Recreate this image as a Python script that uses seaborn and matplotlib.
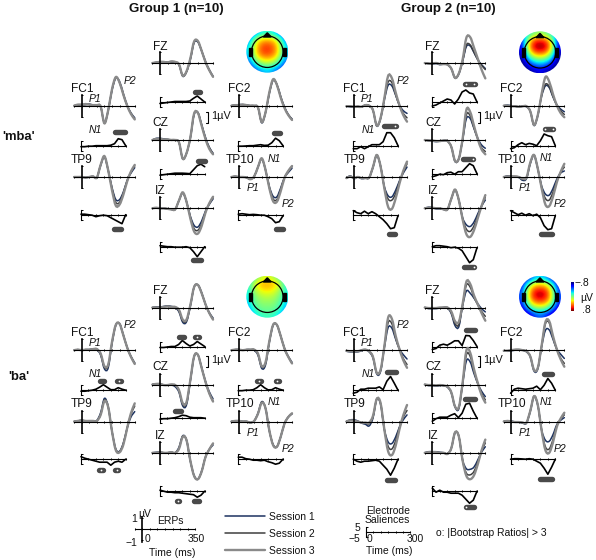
import numpy as np
import pandas as pd
import matplotlib
matplotlib.use("Agg")
import matplotlib.pyplot as plt
import seaborn as sns
from matplotlib.patches import Circle, PathPatch, Polygon, Rectangle
from matplotlib.path import Path

times = [-50, -25, 0, 25, 50, 75, 100, 125, 150, 175, 200, 225, 250, 275, 300, 325, 350]
sal_times = [0, 25, 50, 75, 100, 125, 150, 175, 200, 225, 250, 275, 300]
sessions = ["Session 1", "Session 2", "Session 3"]
electrodes = ["fc1", "fz", "fc2", "cz", "tp9", "tp10", "iz"]
elec_names = ["FC1", "FZ", "FC2", "CZ", "TP9", "TP10", "IZ"]

# erps in uV, session 1, 2, 3
g1_mba_fc1 = [[0,.05,.1,.1,.15,.05,0,-.1,-1.55,-.4,1.4,2.5,2.2,1.1,.05,-.65,-1.1],
              [0,.05,.05,.1,.1,.05,0,-.1,-1.6,-.45,1.45,2.55,2.1,1.0,0,-.7,-1.2],
              [0,.1,.1,.15,.1,.05,.05,-.05,-1.6,-.4,1.5,2.6,2.1,1.0,0,-.75,-1.25]]
g1_mba_fz = [[0,.05,.05,.1,.05,.1,.05,-.15,-1.2,-.8,.3,1.85,1.9,1.1,.15,-.6,-1.2],
             [0,.05,.1,.1,.05,.1,.05,-.15,-1.15,-.8,.35,1.9,1.95,1.1,.1,-.65,-1.25],
             [0,.05,.1,.1,.05,.15,.1,-.1,-1.15,-.75,.4,1.95,2.0,1.1,.1,-.65,-1.25]]
g1_mba_fc2 = [[0,.05,.1,.1,.05,0,0,-.15,-1.55,-.65,1.1,2.3,1.95,.85,-.1,-.8,-1.2],
              [0,.05,.05,.1,.05,0,0,-.15,-1.5,-.6,1.15,2.35,1.9,.8,-.15,-.8,-1.25],
              [0,.05,.05,.1,.05,0,0,-.15,-1.5,-.6,1.2,2.4,1.9,.75,-.2,-.85,-1.3]]
g1_mba_cz = [[0,.15,.15,.1,.05,0,0,-.2,-1.7,-1.2,.15,2.3,2.5,1.4,.25,-.65,-1.2],
             [0,.1,.1,.05,.05,0,0,-.2,-1.7,-1.2,.2,2.35,2.5,1.35,.15,-.7,-1.25],
             [0,.1,.1,.05,.05,0,0,-.2,-1.7,-1.2,.2,2.4,2.45,1.3,.1,-.8,-1.3]]
g1_mba_tp9 = [[0,0,0,-.05,0,.05,-.05,1.05,1.85,.6,-.95,-2.05,-2.05,-1.35,-.3,.35,.85],
              [0,0,0,-.05,0,.05,-.05,1.1,1.85,.6,-1.05,-2.3,-2.3,-1.45,-.35,.45,1.0],
              [0,0,0,-.05,0,.05,-.05,1.1,1.9,.6,-1.2,-2.6,-2.5,-1.6,-.4,.5,1.1]]
g1_mba_tp10 = [[0,.05,0,0,-.05,-.2,.05,.9,1.65,.65,-.85,-1.75,-1.8,-1,-.05,.4,.8],
               [0,.05,0,0,-.05,-.2,.05,.9,1.65,.65,-.95,-2.0,-2.05,-1.15,-.05,.5,.95],
               [0,.05,0,0,-.05,-.2,.05,.9,1.7,.65,-1.0,-2.2,-2.25,-1.3,-.1,.55,1.0]]
g1_mba_iz = [[0,.05,0,0,-.05,-.1,-.1,.7,1.4,.6,-.7,-1.55,-1.7,-1.15,-.25,.35,.85],
             [0,.05,0,0,-.05,-.1,-.1,.7,1.4,.6,-.8,-1.85,-2.0,-1.4,-.35,.4,.95],
             [0,.05,0,0,-.05,-.1,-.1,.7,1.45,.6,-.9,-2.1,-2.3,-1.6,-.4,.45,1.05]]

g2_mba_fc1 = [[-.05,-.1,-.15,-.1,-.1,.05,0,-.4,-1.85,-1.2,.5,1.85,1.8,.95,.05,-.45,-.7],
              [-.05,-.05,-.1,-.05,-.1,.05,0,-.4,-1.8,-1.15,.6,2.15,2.1,1.0,0,-.7,-1.1],
              [-.05,-.05,-.1,-.1,-.1,.05,0,-.4,-1.8,-1.15,.65,2.7,2.5,1.2,.05,-.85,-1.45]]
g2_mba_fz = [[0,-.05,-.1,-.05,-.15,-.1,-.15,-.5,-1.35,-1.0,.15,1.5,1.55,.95,.3,-.15,-.5],
             [0,-.05,-.05,0,-.1,-.1,-.15,-.5,-1.35,-.95,.2,1.65,1.65,1.0,.3,-.2,-.6],
             [0,-.05,-.05,0,-.1,-.1,-.15,-.5,-1.35,-.95,.3,2.3,2.35,1.4,.4,-.6,-1.4]]
g2_mba_fc2 = [[0,.05,0,-.05,-.1,-.05,-.1,-.5,-1.8,-.9,.85,1.8,1.65,.8,.1,-.3,-.55],
              [0,0,-.05,-.05,-.1,-.05,-.05,-.5,-1.75,-.85,.95,1.95,1.75,.85,.05,-.45,-.8],
              [0,0,-.05,-.05,-.1,-.05,-.05,-.5,-1.75,-.85,1.05,2.6,2.2,1.05,.05,-.65,-1.05]]
g2_mba_cz = [[0,-.05,-.1,-.15,-.1,-.05,-.1,-.6,-1.95,-1.7,0,1.95,1.95,1.05,.15,-.45,-.75],
             [0,-.05,-.05,-.1,-.1,-.05,-.1,-.6,-1.9,-1.7,.05,2.3,2.2,1.1,.1,-.7,-1.05],
             [0,-.05,-.05,-.1,-.1,-.05,-.1,-.6,-1.9,-1.7,.1,2.75,2.55,1.3,.1,-.85,-1.3]]
g2_mba_tp9 = [[-.1,.1,-.15,0,-.15,-.1,-.05,.85,1.95,1.0,-.85,-1.7,-1.8,-1.2,-.35,.35,.9],
              [-.1,.05,-.1,0,-.1,-.1,-.05,.9,2.0,1.0,-.95,-2.0,-2.1,-1.5,-.45,.45,1.2],
              [-.1,.05,-.1,0,-.1,-.1,-.05,.9,2.0,1.0,-1.0,-2.7,-2.9,-1.95,-.6,.55,1.4]]
g2_mba_tp10 = [[0,.1,.05,0,-.05,-.3,-.15,1.2,1.95,.75,-.8,-1.55,-1.65,-1.05,-.2,.35,.55],
               [0,.05,.05,.05,0,-.2,-.1,1.25,2.0,.75,-.95,-1.95,-2.1,-1.4,-.4,.4,.9],
               [0,.05,.05,.05,0,-.15,-.05,1.3,2.0,.75,-1.0,-2.5,-2.65,-1.8,-.5,.45,1.2]]
g2_mba_iz = [[0,.1,.05,-.05,-.05,-.1,-.1,.85,1.65,.75,-.85,-1.5,-1.65,-1.25,-.5,.2,.75],
             [0,.05,.05,0,0,-.1,-.1,.85,1.7,.75,-.95,-1.9,-2.1,-1.6,-.7,.2,1.0],
             [0,.05,.05,0,0,-.1,-.1,.85,1.7,.75,-1.0,-2.35,-2.6,-2.0,-.9,.2,1.2]]

g1_ba_fc1 = [[0,.05,0,.05,.05,.1,.05,-.45,-1.7,-1.6,.6,2.25,2.4,1.4,.25,-.55,-1.15],
             [0,.05,0,.05,.05,.1,.1,-.35,-1.55,-1.4,.7,2.3,2.4,1.35,.25,-.6,-1.2],
             [0,.05,0,.05,.05,.1,.1,-.3,-1.45,-1.3,.75,2.3,2.4,1.35,.25,-.6,-1.25]]
g1_ba_fz = [[0,.05,.05,.1,.15,.1,0,-.4,-1.35,-1.3,.1,1.85,2.05,1.35,.3,-.45,-.95],
            [0,0,0,.05,.1,.05,0,-.3,-1.2,-1.2,.15,1.85,2.05,1.3,.3,-.5,-1.05],
            [0,0,0,.05,.1,.05,.05,-.2,-1.1,-1.1,.2,1.85,2.05,1.3,.3,-.5,-1.1]]
g1_ba_fc2 = [[0,.05,.05,0,.05,.05,0,-.45,-1.65,-1.35,.7,2.25,2.3,1.3,.2,-.55,-1.1],
             [0,.05,.05,0,.05,.05,.05,-.35,-1.5,-1.2,.75,2.3,2.3,1.3,.15,-.6,-1.2],
             [0,.05,.05,0,.05,.05,.05,-.3,-1.45,-1.1,.8,2.3,2.3,1.3,.15,-.6,-1.2]]
g1_ba_cz = [[0,.05,.05,-.05,-.05,-.05,-.2,-.7,-1.95,-1.85,.3,2.5,2.7,1.55,.3,-.65,-1.3],
            [0,.05,.05,-.05,-.05,0,-.1,-.55,-1.8,-1.7,.35,2.55,2.7,1.5,.25,-.8,-1.5],
            [0,.05,.05,-.05,-.05,0,-.05,-.5,-1.7,-1.6,.4,2.55,2.7,1.5,.25,-.8,-1.55]]
g1_ba_tp9 = [[0,.05,.1,.05,.05,.05,.1,.8,2.1,1.35,-.9,-2.5,-2.7,-1.95,-.6,.4,.9],
             [0,.05,.1,.05,.05,.05,.05,.65,1.95,1.3,-.9,-2.55,-2.75,-2.0,-.6,.65,1.4],
             [0,.05,.1,.05,.05,.05,.05,.6,1.85,1.3,-.9,-2.6,-2.8,-2.1,-.6,.75,1.65]]
g1_ba_tp10 = [[0,.05,.05,0,0,-.1,.05,.75,1.8,1.2,-.85,-2.1,-2.3,-1.4,-.2,.4,.7],
              [0,.05,.05,0,0,-.1,.05,.7,1.75,1.2,-.8,-2.1,-2.3,-1.4,-.2,.4,.7],
              [0,.05,.05,0,0,-.1,.05,.7,1.7,1.2,-.8,-2.15,-2.3,-1.4,-.2,.4,.75]]
g1_ba_iz = [[0,.05,.05,0,0,.05,0,.5,1.55,1.15,-.75,-2.05,-2.4,-1.65,-.4,.3,.7],
            [0,0,.05,0,0,.05,0,.4,1.5,1.15,-.7,-2.1,-2.4,-1.7,-.4,.3,.85],
            [0,0,.05,0,0,.05,0,.35,1.45,1.15,-.7,-2.1,-2.4,-1.7,-.4,.3,.85]]

g2_ba_fc1 = [[-.1,-.15,-.15,-.15,-.05,.05,-.15,-.7,-2.15,-1.95,.2,2.05,2.0,1.0,.1,-.4,-.8],
             [-.05,-.1,-.1,-.1,0,.05,-.1,-.6,-2.05,-1.85,.3,2.5,2.4,1.1,.1,-.75,-1.3],
             [-.05,-.1,-.1,-.1,0,.05,-.1,-.6,-2.05,-1.8,.3,2.95,2.85,1.3,.1,-.9,-1.6]]
g2_ba_fz = [[0,-.1,-.1,-.1,-.05,0,-.05,-.55,-1.65,-1.75,.15,1.5,1.3,.85,.35,-.1,-.4],
            [0,-.05,-.05,-.05,-.05,0,0,-.45,-1.45,-1.55,.25,2.05,1.85,.95,.25,-.35,-.8],
            [0,-.05,-.05,-.05,0,0,0,-.35,-1.25,-1.3,.3,2.35,2.15,1.1,.3,-.5,-1.2]]
g2_ba_fc2 = [[-.05,-.1,-.05,0,.05,0,-.15,-.6,-1.9,-1.7,.3,1.8,1.85,1.0,.1,-.35,-.75],
             [-.05,-.05,0,.05,.05,0,-.1,-.55,-1.8,-1.6,.4,2.4,2.5,1.15,.1,-.7,-1.2],
             [-.05,-.05,0,.05,.05,0,-.1,-.55,-1.8,-1.6,.4,2.55,2.65,1.3,.1,-.8,-1.5]]
g2_ba_cz = [[0,-.1,-.1,-.15,-.1,-.1,-.25,-.75,-2.05,-2.2,.05,2.15,2.05,1.0,.1,-.6,-1.1],
            [0,-.05,-.05,-.1,-.05,-.1,-.2,-.7,-2.0,-2.1,.1,2.7,2.55,1.2,.1,-.8,-1.4],
            [0,-.05,-.05,-.1,-.05,-.1,-.2,-.7,-2.0,-2.05,.15,3.1,2.9,1.4,.15,-.95,-1.65]]
g2_ba_tp9 = [[0,.15,.15,.05,-.15,-.25,-.4,.3,2.0,1.6,-.7,-1.85,-2.0,-1.4,-.5,.15,.6],
             [0,.1,.1,0,-.1,-.15,-.2,.4,2.05,1.65,-.7,-2.25,-2.5,-1.75,-.55,.4,1.0],
             [0,.1,.05,0,-.1,-.1,-.1,.5,2.05,1.7,-.7,-2.7,-3.05,-2.2,-.7,.55,1.5]]
g2_ba_tp10 = [[0,.05,.05,-.05,-.05,-.15,-.15,.9,2.25,1.45,-.75,-1.7,-1.8,-1.2,-.3,.1,.35],
              [0,.05,0,-.05,-.05,-.1,-.1,.95,2.3,1.5,-.8,-2.3,-2.5,-1.65,-.4,.2,.6],
              [0,.05,0,-.05,-.05,-.1,-.1,.95,2.3,1.5,-.8,-2.6,-2.85,-1.9,-.5,.25,.8]]
g2_ba_iz = [[0,.1,.1,.1,.05,0,-.1,.4,1.8,1.5,-.65,-1.45,-1.5,-1.3,-.65,.05,.55],
            [0,.05,.05,.05,0,0,-.1,.4,1.85,1.5,-.7,-1.85,-2.0,-1.7,-.85,.15,.9],
            [0,.05,.05,.05,0,0,-.1,.4,1.85,1.5,-.7,-2.1,-2.4,-2.05,-1.05,.2,1.2]]

# electrode saliences
g1_mba_fc1_sal = [-1,-1,-.5,-.5,0,0,0,0,.5,2,7,6,0]
g1_mba_fz_sal = [-1.5,-1,-.5,0,.5,.5,.5,.5,1,3.7,6,3,0]
g1_mba_fc2_sal = [-.5,-.5,-.3,0,0,.5,1,.3,.5,3,7.5,5,0]
g1_mba_cz_sal = [-1.5,-1,-.5,0,.5,.5,.5,.3,0,4,8,9.5,7]
g1_mba_tp9_sal = [.5,.5,0,-.5,-2,-1,-.5,-1,-3,-5,-7,-9,0]
g1_mba_tp10_sal = [.5,1,.5,0,.3,0,-.5,-.5,-2,-4,-8,-7,-1]
g1_mba_iz_sal = [1,.5,0,0,-.5,-.5,-.5,0,-1,-5,-10,-5,0]

g2_mba_fc1_sal = [-3,-3,-1,-3,-1,1,1,1,4,13,13,8,0]
g2_mba_fz_sal = [-4,-3,-1,1,3,2,-2,3,10,12,9,8,0]
g2_mba_fc2_sal = [-3,-2,1,3,1,2.3,1.5,0,5,11.7,10,9,0]
g2_mba_cz_sal = [-3,-2,-.5,-1,1,1.5,-.5,2,2,6,10,8,0]
g2_mba_tp9_sal = [4,2,1,3.5,1,3,1,-2,-5,-9,-14,-13,-1]
g2_mba_tp10_sal = [4,2,0,1.5,-.5,1,-1,.5,-3,-11,-15,-14,-1]
g2_mba_iz_sal = [0,1,1,.5,0,-1,-.5,-1.5,-4,-10,-16,-13,-1]

g1_ba_fc1_sal = [-1,-1,-.5,0,1,3,5.5,3,.5,.5,2.5,1,0]
g1_ba_fz_sal = [-1,-1,-.5,0,0,2,6,3,.5,2,5,2.5,0]
g1_ba_fc2_sal = [-.5,-.5,0,0,.5,2.5,5.5,2.5,.3,.5,2.5,1,0]
g1_ba_cz_sal = [-1,-.5,-.5,0,.5,1.5,3,2.5,1,.5,.5,.5,0]
g1_ba_tp9_sal = [2.5,1,0,-1,-2,-3,-3,-3,-6,-3,-2,-3,0]
g1_ba_tp10_sal = [2,2,.5,0,-1,-1,-1.5,-1,-2.5,-3.5,-5,-4,0]
g1_ba_iz_sal = [1,0,-1,-1,-1.5,-1.5,-2,-2.5,-3,-3.5,-6,-4,0]

g2_ba_fc1_sal = [-3,-2,1,1,2,2,2,3.3,.5,9,13.7,7,0]
g2_ba_fz_sal = [-3,-2,1.3,2.3,1.3,3.3,5.7,5.7,1,11,10.7,6,0]
g2_ba_fc2_sal = [-3,1,2,1.5,1,1.5,2,4,.5,5,11.7,7,0]
g2_ba_cz_sal = [-3,-.5,1,1,1,3,4.5,.5,5,14,15,7,0]
g2_ba_tp9_sal = [0,-2,-3,-2,-2,-1.5,-1,-2,-6,-10,-16,-9,0]
g2_ba_tp10_sal = [0,.5,.5,.3,0,.5,0,-2,-4,-9,-15,-8,0]
g2_ba_iz_sal = [3,-1,1,-1,-1,-2,-2,-2,-4,-8,-12,-9,0]

# significant ranges: t start, t end, height, open dots
g1_mba_fc1_sig = [(230, 293, 13.3, [])]
g1_mba_fz_sig = [(232, 268, 10.3, [])]
g1_mba_fc2_sig = [(242, 278, 13, [])]
g1_mba_cz_sig = [(255, 300, 12.3, []), (-4, -4, 12.3, [-4])]
g1_mba_tp9_sig = [(224, 269, -14, [])]
g1_mba_tp10_sig = [(255, 300, -14, [])]
g1_mba_iz_sig = [(219, 273, -13.3, [])]

g2_mba_fc1_sig = [(208, 284, 20, [280])]
g2_mba_fz_sig = [(222, 284, 18, [226, 280])]
g2_mba_fc2_sig = [(228, 284, 17, [228, 284])]
g2_mba_cz_sig = [(208, 275, 14.7, [275])]
g2_mba_tp9_sig = [(237, 282, -19.7, [])]
g2_mba_tp10_sig = [(206, 280, -19.3, [])]
g2_mba_iz_sig = [(210, 282, -20.7, [277])]

g1_ba_fc1_sig = [(125, 152, 9.7, []), (244, 270, 9.7, [256])]
g1_ba_fz_sig = [(125, 161, 10, []), (237, 264, 10, [250])]
g1_ba_fc2_sig = [(128, 154, 9.7, [141]), (250, 270, 9.7, [257])]
g1_ba_cz_sig = [(103, 139, 6.7, [])]
g1_ba_tp9_sig = [(119, 146, -10.7, [133]), (228, 250, -10.7, [239])]
g1_ba_tp10_sig = []
g1_ba_iz_sig = [(112, 130, -9.7, [121]), (228, 264, -9.7, [])]

g2_ba_fc1_sig = [(228, 287, 18.3, [])]
g2_ba_fz_sig = [(226, 289, 16.3, []), (152, 152, 16.3, [152])]
g2_ba_fc2_sig = [(226, 280, 16.3, [])]
g2_ba_cz_sig = [(222, 284, 19, [])]
g2_ba_tp9_sig = [(224, 282, -20.3, [])]
g2_ba_tp10_sig = [(197, 278, -19.3, [])]
g2_ba_iz_sig = [(226, 280, -16, [226])]

# scalp maps, uV, front at the top
map_g1_mba = [[-.55,-.45,-.3,-.2,-.15,-.2,-.3,-.45,-.55],
              [-.42,-.2,.05,.2,.22,.2,.05,-.2,-.42],
              [-.32,-.02,.28,.42,.46,.42,.28,-.02,-.32],
              [-.26,.05,.36,.52,.56,.52,.36,.05,-.26],
              [-.26,.05,.36,.52,.56,.5,.36,.05,-.26],
              [-.32,-.05,.24,.38,.42,.38,.24,-.05,-.32],
              [-.42,-.2,.02,.15,.2,.15,.02,-.2,-.42],
              [-.55,-.38,-.2,-.1,-.05,-.1,-.2,-.38,-.55],
              [-.68,-.55,-.42,-.32,-.28,-.32,-.42,-.55,-.68]]
map_g2_mba = [[-.4,-.3,-.1,0,.05,0,-.1,-.3,-.4],
              [-.55,-.2,.15,.35,.4,.35,.15,-.2,-.55],
              [-.6,-.1,.4,.65,.7,.65,.4,-.1,-.6],
              [-.65,-.1,.45,.7,.75,.7,.45,-.1,-.65],
              [-.7,-.2,.25,.5,.55,.5,.25,-.2,-.7],
              [-.75,-.4,-.05,.15,.2,.15,-.05,-.4,-.75],
              [-.8,-.6,-.35,-.2,-.15,-.2,-.35,-.6,-.8],
              [-.8,-.75,-.6,-.5,-.45,-.5,-.6,-.75,-.8],
              [-.8,-.8,-.75,-.7,-.65,-.7,-.75,-.8,-.8]]
map_g1_ba = [[-.25,-.1,.05,.15,.2,.15,.05,-.1,-.25],
             [-.15,.05,.25,.33,.35,.33,.25,.05,-.15],
             [-.15,.05,.22,.3,.32,.3,.22,.05,-.15],
             [-.2,0,.12,.2,.22,.2,.12,0,-.2],
             [-.22,-.05,.05,.1,.12,.1,.05,-.05,-.22],
             [-.25,-.1,0,.05,.05,.05,0,-.1,-.25],
             [-.3,-.15,-.05,0,0,0,-.05,-.15,-.3],
             [-.35,-.22,-.1,-.05,-.05,-.05,-.1,-.22,-.35],
             [-.45,-.35,-.2,-.15,-.12,-.15,-.2,-.35,-.45]]
map_g2_ba = [[-.75,-.65,-.45,-.3,-.25,-.3,-.45,-.65,-.75],
             [-.65,-.35,-.05,.15,.2,.15,-.05,-.35,-.65],
             [-.55,-.15,.25,.45,.5,.45,.25,-.15,-.55],
             [-.5,-.05,.4,.65,.7,.65,.4,-.05,-.5],
             [-.5,-.05,.4,.65,.7,.65,.4,-.05,-.5],
             [-.55,-.15,.25,.45,.5,.45,.25,-.15,-.55],
             [-.65,-.35,-.05,.15,.2,.15,-.05,-.35,-.65],
             [-.75,-.6,-.4,-.25,-.2,-.25,-.4,-.6,-.75],
             [-.8,-.75,-.65,-.5,-.45,-.5,-.65,-.75,-.8]]

W, H = 596, 560
colors = ["#1c3260", "#3f3f3f", "#8a8a8a"]
widths = [1.1, 1.1, 1.7]

sns.set_theme(style="white")
plt.rcParams["font.family"] = ["Liberation Sans", "DejaVu Sans"]
fig = plt.figure(figsize=(W / 100, H / 100), dpi=100)

over = fig.add_axes([0, 0, 1, 1], zorder=5)
over.set_xlim(0, W)
over.set_ylim(H, 0)
over.axis("off")
over.patch.set_alpha(0)


def px_axes(left, top, width, height):
    ax = fig.add_axes([left / W, 1 - (top + height) / H, width / W, height / H])
    ax.patch.set_alpha(0)
    return ax


def label(x, y, s, size=7.5, ha="center", **kw):
    over.text(x, y + 0.8, s, fontsize=size, ha=ha, va="center", color="#111111", **kw)


def style_axes(ax, bound, left_width, ydir):
    sns.despine(ax=ax, top=True, right=True)
    ax.spines["left"].set_position(("data", 0))
    ax.spines["bottom"].set_position(("data", 0))
    ax.spines["left"].set_bounds(-bound, bound)
    ax.spines["left"].set_linewidth(left_width)
    ax.spines["bottom"].set_linewidth(0.8)
    ax.spines["left"].set_color("black")
    ax.spines["bottom"].set_color("black")
    ax.tick_params(axis="x", length=1.6, width=0.7, direction="inout", labelbottom=False, bottom=True, color="black")
    ax.tick_params(axis="y", length=1.6, width=0.7, direction=ydir, labelleft=False, left=True, color="black")


def erp_axes(vx, zy):
    ax = px_axes(vx - 7.57, zy - 44, 60.6, 88)
    ax.set_xlim(-50, 350)
    ax.set_ylim(-4, 4)
    ax.set_xticks(range(-50, 351, 50))
    ax.set_yticks([-1, 1])
    style_axes(ax, 1, 1.2, "inout")
    return ax


def sal_axes(sx, sy):
    ax = px_axes(sx, sy - 25, 44.7, 50)
    ax.set_xlim(0, 300)
    ax.set_ylim(-25, 25)
    ax.set_xticks(range(0, 301, 50))
    ax.set_yticks([-5, 5])
    style_axes(ax, 5, 0.8, "in")
    return ax


def round_lines(ax):
    # seaborn draws straight segments, redraw them as a curve through the same points
    for line in list(ax.lines):
        xy = line.get_xydata()
        tan = np.gradient(xy, axis=0) / 3
        verts = [xy[0]]
        for i in range(len(xy) - 1):
            verts += [xy[i] + tan[i], xy[i + 1] - tan[i + 1], xy[i + 1]]
        codes = [Path.MOVETO] + [Path.CURVE4] * (len(verts) - 1)
        ax.add_patch(PathPatch(Path(verts, codes), fill=False, ec=line.get_color(), lw=line.get_linewidth(),
                               capstyle="round", clip_on=False, zorder=line.get_zorder()))
        line.remove()


# vertical axis x, zero y, label left, label y, salience left, salience y
layout = {"fc1": (81.7, 105.7, 70.7, 88, 81, 145.7),
          "fz": (160, 63, 153, 45.7, 160, 102),
          "fc2": (239, 105.7, 227.7, 88, 238.3, 145.7),
          "cz": (160, 140, 152.7, 122, 160, 173.7),
          "tp9": (81.7, 177, 71, 159, 81, 214.7),
          "tp10": (239, 177, 225.7, 159, 238.3, 214.7),
          "iz": (160, 208.3, 155.3, 190.7, 160, 246.7)}
dx = {"g1": 0, "g2": 272.3}
dy = {"mba": 0, "ba": 244.5}

for g in ["g1", "g2"]:
    for cond in ["mba", "ba"]:
        for e, name in zip(electrodes, elec_names):
            vx, zy, lx, ly, sx, sy = layout[e]
            vx, lx, sx = vx + dx[g], lx + dx[g], sx + dx[g]
            zy, ly, sy = zy + dy[cond], ly + dy[cond], sy + dy[cond]
            series = globals()[f"{g}_{cond}_{e}"]
            df = pd.DataFrame({"time": times * 3,
                               "uv": series[0] + series[1] + series[2],
                               "session": np.repeat(sessions, len(times))})
            ax = erp_axes(vx, zy)
            sns.lineplot(data=df, x="time", y="uv", hue="session", palette=colors, size="session",
                         sizes=widths, legend=False, ax=ax, errorbar=None, clip_on=False)
            round_lines(ax)
            ax.set_xlabel("")
            ax.set_ylabel("")
            label(lx, ly, name, 8.6, "left")

            ax = sal_axes(sx, sy)
            sal = pd.DataFrame({"time": sal_times, "value": globals()[f"{g}_{cond}_{e}_sal"]})
            sns.lineplot(data=sal, x="time", y="value", color="black", linewidth=1.2, ax=ax, errorbar=None, clip_on=False)
            for t0, t1, h, dots in globals()[f"{g}_{cond}_{e}_sig"]:
                ax.plot([t0, t1], [h, h], color="#4a4a4a", lw=3.9, solid_capstyle="round", clip_on=False)
                if dots:
                    ax.scatter(dots, [h] * len(dots), s=1.6, color="white", zorder=6, clip_on=False, linewidths=0)
            ax.set_xlabel("")
            ax.set_ylabel("")

# component labels
for x, y, s in [(130.3, 80, "P2"), (94.7, 98, "P1"), (95.7, 129.3, "N1"), (274.3, 158, "N1"), (252.7, 187.3, "P1"), (287.7, 203.3, "P2"),
                (402.7, 80, "P2"), (367, 98, "P1"), (368, 129.3, "N1"), (546.7, 157.3, "N1"), (525, 187.3, "P1"), (560, 203.3, "P2"),
                (130.3, 324.7, "P2"), (94.7, 342.3, "P1"), (95.7, 373.3, "N1"), (274, 401.3, "N1"), (252.7, 431.7, "P1"), (287.7, 447.7, "P2"),
                (402.7, 324.7, "P2"), (367, 342.7, "P1"), (368, 373.3, "N1"), (546.7, 401.3, "N1"), (525, 431.7, "P1"), (560, 447.7, "P2")]:
    label(x, y, s, 7.5, style="italic")

# 1 uV brackets
for x, y in [(205.7, 112.3), (478, 112.3), (205.7, 356), (478, 356)]:
    over.plot([x, x + 1.8, x + 1.8, x], [y, y, y + 11, y + 11], color="black", lw=0.8)
    label(x + 5, y + 3, "1µV", 7.8, "left")

label(176.5, 8, "Group 1 (n=10)", 9.6, fontweight="bold")
label(448.7, 8, "Group 2 (n=10)", 9.6, fontweight="bold")
label(18.5, 136, "'mba'", 9.4, fontweight="bold")
label(19, 376, "'ba'", 9.4, fontweight="bold")


def scalp(cx, cy, grid):
    ax = px_axes(cx - 22, cy - 22, 44, 44)
    ax.set_xlim(-22 / 21, 22 / 21)
    ax.set_ylim(-22 / 21, 22 / 21)
    ax.axis("off")
    im = ax.imshow(grid, cmap="jet", vmin=-.8, vmax=.8, extent=(-1, 1, -1, 1), interpolation="bicubic")
    im.set_clip_path(Circle((0, 0), 1, transform=ax.transData))
    ax.add_patch(Circle((0, 0), .75, fill=False, ec="black", lw=0.9))
    ax.add_patch(Polygon([(-.19, .7), (.19, .7), (0, .9)], closed=True, color="black"))
    ax.add_patch(Rectangle((-.87, -.2), .14, .4, color="black"))
    ax.add_patch(Rectangle((.73, -.2), .14, .4, color="black"))
    return im


scalp(267.3, 51.7, map_g1_mba)
scalp(540, 52.3, map_g2_mba)
scalp(267.3, 296.7, map_g1_ba)
im = scalp(540, 296.7, map_g2_ba)

cax = px_axes(571, 282.3, 2.8, 28.4)
cb = fig.colorbar(im, cax=cax)
cb.outline.set_visible(False)
cb.set_ticks([])
cax.invert_yaxis()
label(574.5, 281.7, "−.8", 7.5, "left")
label(586.7, 297, "µV")
label(586, 309.3, ".8")

# scale keys
ax = erp_axes(142.3, 529.3)
ax.spines["left"].set_bounds(-1.15, 1.15)
ax = sal_axes(365.7, 531.7)
for x, y, s in [(134.3, 518.3, "1"), (145, 513, "µV"), (170.7, 520, "ERPs"), (131.7, 541.7, "−1"),
                (147.3, 538.3, "0"), (196.7, 538.3, "350"), (172.3, 551.7, "Time (ms)"),
                (387.7, 510, "Electrode"), (387.7, 519.3, "Saliences"), (357.3, 527.3, "5"), (354, 537.7, "−5"),
                (369.3, 538.7, "0"), (415, 538.7, "300"), (389, 550.7, "Time (ms)")]:
    label(x, y, s)
label(436, 531.7, "o: |Bootstrap Ratios| > 3", 7.5, "left")
for y, s, c, w in zip([516.3, 533, 549.7], sessions, colors, widths):
    over.plot([225, 265], [y, y], color=c, lw=w)
    label(269.3, y, s, 7.5, "left")

fig.savefig("out.png", dpi=100)
